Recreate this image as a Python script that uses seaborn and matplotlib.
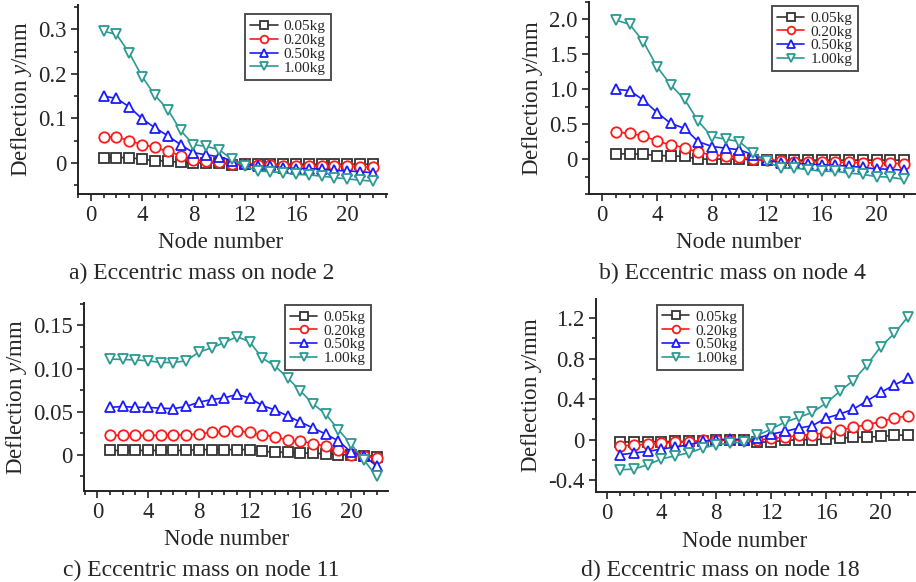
import pandas as pd
import seaborn as sns
import numpy as np
import matplotlib.pyplot as plt
from matplotlib.ticker import MultipleLocator

sns.set_style("white")
plt.rcParams["font.family"] = ["Liberation Serif", "DejaVu Serif"]
plt.rcParams["mathtext.fontset"] = "custom"
plt.rcParams["mathtext.rm"] = "Liberation Serif"
plt.rcParams["mathtext.it"] = "Liberation Serif:italic"

#%% data
nodes = list(range(1, 23))
masses = ["0.05kg", "0.20kg", "0.50kg", "1.00kg"]

# a) eccentric mass on node 2
a_005 = [0.012, 0.012, 0.012, 0.008, 0.005, 0.004, 0.001, 0.0, 0.0, 0.0, -0.004, -0.003,
         -0.003, -0.003, -0.003, -0.003, -0.003, -0.003, -0.003, -0.003, -0.003, -0.003]
a_020 = [0.059, 0.058, 0.050, 0.041, 0.035, 0.026, 0.016, 0.006, 0.005, 0.001, -0.002, -0.003,
         -0.005, -0.005, -0.006, -0.006, -0.007, -0.007, -0.008, -0.008, -0.009, -0.010]
a_050 = [0.150, 0.145, 0.126, 0.099, 0.079, 0.061, 0.041, 0.023, 0.018, 0.014, 0.005, -0.002,
         -0.007, -0.008, -0.011, -0.013, -0.013, -0.014, -0.017, -0.018, -0.020, -0.022]
a_100 = [0.296, 0.289, 0.247, 0.194, 0.152, 0.120, 0.073, 0.041, 0.037, 0.030, 0.008, -0.007,
         -0.018, -0.020, -0.022, -0.026, -0.027, -0.030, -0.033, -0.036, -0.039, -0.041]

# b) eccentric mass on node 4
b_005 = [0.075, 0.075, 0.070, 0.050, 0.047, 0.038, 0.0, 0.0, 0.0, 0.0, -0.01, -0.02,
         -0.015, -0.015, -0.015, -0.015, -0.015, -0.015, -0.015, -0.015, -0.015, -0.015]
b_020 = [0.385, 0.370, 0.330, 0.260, 0.200, 0.166, 0.095, 0.060, 0.047, 0.028, 0.0, -0.020,
         -0.033, -0.035, -0.038, -0.042, -0.045, -0.048, -0.052, -0.056, -0.060, -0.065]
b_050 = [1.00, 0.98, 0.845, 0.665, 0.51, 0.44, 0.25, 0.18, 0.157, 0.133, 0.06, -0.01,
         -0.057, -0.062, -0.07, -0.08, -0.09, -0.10, -0.12, -0.14, -0.145, -0.16]
b_100 = [1.99, 1.93, 1.68, 1.32, 1.06, 0.855, 0.54, 0.32, 0.285, 0.25, 0.085, -0.03,
         -0.13, -0.13, -0.15, -0.175, -0.175, -0.20, -0.22, -0.25, -0.26, -0.29]

# c) eccentric mass on node 11
c_005 = [0.005, 0.005, 0.005, 0.005, 0.005, 0.005, 0.005, 0.006, 0.006, 0.006, 0.006, 0.006,
         0.004, 0.003, 0.003, 0.002, 0.002, 0.001, 0.0, 0.0, -0.001, -0.002]
c_020 = [0.0225, 0.0225, 0.0225, 0.0225, 0.0225, 0.023, 0.023, 0.024, 0.026, 0.027, 0.028, 0.026,
         0.023, 0.021, 0.017, 0.0155, 0.013, 0.010, 0.006, 0.0, -0.001, -0.004]
c_050 = [0.055, 0.056, 0.055, 0.055, 0.054, 0.0535, 0.056, 0.061, 0.064, 0.066, 0.070, 0.066,
         0.057, 0.052, 0.045, 0.038, 0.031, 0.024, 0.016, 0.003, -0.001, -0.013]
c_100 = [0.111, 0.1105, 0.110, 0.109, 0.107, 0.107, 0.109, 0.119, 0.124, 0.130, 0.137, 0.131,
         0.112, 0.103, 0.089, 0.074, 0.059, 0.047, 0.029, 0.012, -0.006, -0.025]

# d) eccentric mass on node 18
d_005 = [-0.023, -0.02, -0.02, -0.018, -0.017, -0.016, -0.015, -0.007, 0.0, -0.007, -0.026, -0.02,
         -0.007, 0.0, 0.0, 0.007, 0.016, 0.023, 0.026, 0.033, 0.043, 0.049]
d_020 = [-0.06, -0.053, -0.043, -0.033, -0.026, -0.02, -0.007, 0.0, 0.0, -0.007, -0.007, 0.016,
         0.023, 0.043, 0.049, 0.072, 0.092, 0.125, 0.148, 0.18, 0.214, 0.237]
d_050 = [-0.148, -0.13, -0.115, -0.092, -0.072, -0.05, -0.016, 0.0, 0.007, 0.0, 0.016, 0.056,
         0.082, 0.115, 0.138, 0.214, 0.253, 0.302, 0.385, 0.467, 0.542, 0.608]
d_100 = [-0.296, -0.29, -0.246, -0.19, -0.158, -0.13, -0.082, -0.05, -0.033, -0.023, 0.043, 0.105,
         0.174, 0.22, 0.27, 0.36, 0.477, 0.585, 0.74, 0.92, 1.05, 1.217]

captions = ["a) Eccentric mass on node 2", "b) Eccentric mass on node 4",
            "c) Eccentric mass on node 11", "d) Eccentric mass on node 18"]

#%%
colors = ["#333333", "#ff1a1a", "#1a1aff", "#2a9a92"]
mks = ["s", "o", "^", "v"]

panels = [
    dict(series=[a_005, a_020, a_050, a_100], rect=[78, 5, 387, 194], ylim=(-0.07, 0.355),
         yt=[0, 0.1, 0.2, 0.3], ytl=["0", "0.1", "0.2", "0.3"], ymin=0.05, xlim=(-1, 23.1),
         leg=(0.54, 0.95), cap=(202, 273), xlx=0.46),
    dict(series=[b_005, b_020, b_050, b_100], rect=[589, 2, 915, 194], ylim=(-0.5, 2.25),
         yt=[0, 0.5, 1.0, 1.5, 2.0], ytl=["0", "0.5", "1.0", "1.5", "2.0"], ymin=0.25,
         xlim=(-0.97, 22.8), leg=(0.56, 0.98), cap=(732, 273), xlx=0.46),
    dict(series=[c_005, c_020, c_050, c_100], rect=[84, 303, 388, 491], ylim=(-0.042, 0.176),
         yt=[0, 0.05, 0.10, 0.15], ytl=["0", "0.05", "0.10", "0.15"], ymin=0.025,
         xlim=(-1.05, 22.9), leg=(0.66, 0.99), cap=(201, 570), xlx=0.47),
    dict(series=[d_005, d_020, d_050, d_100], rect=[596, 299, 915, 492], ylim=(-0.516, 1.39),
         yt=[-0.4, 0, 0.4, 0.8, 1.2], ytl=["-0.4", "0", "0.4", "0.8", "1.2"], ymin=0.2,
         xlim=(-0.78, 22.5), leg=(0.19, 0.97), cap=(720, 570), xlx=0.465),
]

W, H = 916, 582
fig = plt.figure(figsize=(W / 100, H / 100), dpi=100)

for i, p in enumerate(panels):
    l, t, r, b = p["rect"]
    ax = fig.add_axes([l / W, 1 - b / H, (r - l) / W, (b - t) / H])
    for vals, lab, c, m in zip(p["series"], masses, colors, mks):
        df = pd.DataFrame({"node": nodes, "y": vals})
        sns.lineplot(data=df, x="node", y="y", ax=ax, color=c, marker=m, label=lab,
                     markersize=7.5, markerfacecolor="white", markeredgecolor=c,
                     markeredgewidth=1.3, linewidth=1.2)
    ax.set_xlim(*p["xlim"])
    ax.set_ylim(*p["ylim"])
    ax.set_xticks([0, 4, 8, 12, 16, 20])
    ax.xaxis.set_minor_locator(MultipleLocator(1))
    ax.set_yticks(p["yt"])
    ax.set_yticklabels(p["ytl"])
    ax.yaxis.set_minor_locator(MultipleLocator(p["ymin"]))
    for s in ["top", "right"]:
        ax.spines[s].set_visible(False)
    for s in ["left", "bottom"]:
        ax.spines[s].set_color("#222222")
        ax.spines[s].set_linewidth(1.4)
    ax.tick_params(which="both", direction="out", color="#222222", width=1.2,
                   left=True, bottom=True, labelsize=16.5, pad=3)
    ax.tick_params(which="major", length=5)
    ax.tick_params(which="minor", length=3)
    ax.set_xlabel("Node number", fontsize=16.5, labelpad=2)
    ax.xaxis.set_label_coords(p["xlx"], -0.2)
    ax.set_ylabel("Deflection $\\it{y}$/mm", fontsize=16.5, labelpad=3)
    leg = ax.legend(loc="upper left", bbox_to_anchor=p["leg"], fontsize=11,
                    frameon=True, fancybox=False, edgecolor="#222222",
                    labelspacing=0.0, handlelength=1.8, handletextpad=0.4,
                    borderpad=0.35, borderaxespad=0)
    leg.get_frame().set_linewidth(1.4)
    for h in leg.legend_handles:
        h.set_markersize(5.5)
    fig.text(p["cap"][0] / W, 1 - p["cap"][1] / H, captions[i],
             ha="center", va="center", fontsize=17)

fig.savefig("out.png", dpi=100)
